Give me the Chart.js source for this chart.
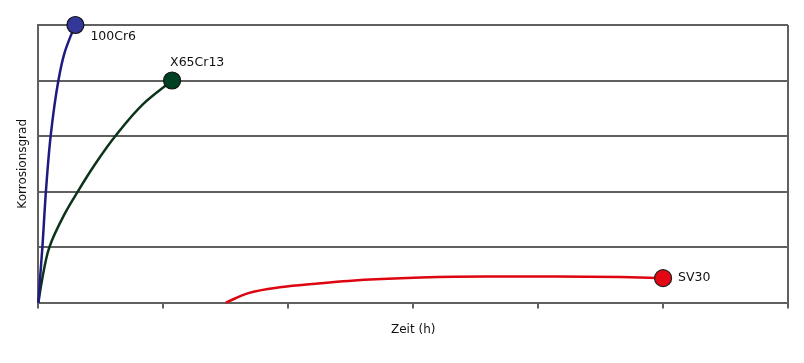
<!DOCTYPE html>
<html>
<head>
<meta charset="utf-8">
<script src="https://cdn.jsdelivr.net/npm/chart.js@4.4.1/dist/chart.umd.min.js"></script>
<style>
  html, body { margin: 0; padding: 0; background: #fff; }
  #wrap { width: 804px; height: 363px; }
</style>
</head>
<body>
<div id="wrap"><canvas id="myChart"></canvas></div>
<script>
// values (x in axis units, no labels shown)
const seriesNames = ['100Cr6', 'X65Cr13', 'SV30'];

const cr6X = [0, 0.012, 0.032, 0.06, 0.098, 0.16, 0.208, 0.256, 0.296];
const cr6Y = [0, 0.4, 1, 2, 3, 4, 4.49, 4.79, 5];

const x65X = [0, 0.027, 0.088, 0.208, 0.315, 0.456, 0.616, 0.84, 1.07];
const x65Y = [0, 0.38, 1, 1.59, 2, 2.5, 3, 3.58, 4];

const sv30X = [1.5, 1.68, 1.95, 2.22, 2.48, 3.06, 3.59, 4.12, 4.66, 5.0];
const sv30Y = [0, 0.17, 0.28, 0.34, 0.39, 0.45, 0.47, 0.47, 0.46, 0.44];

const xTicks = [0, 1, 2, 3, 4, 5, 6];
const yTicks = [0, 1, 2, 3, 4, 5];

function pts(xs, ys) {
  return xs.map((x, i) => ({ x: x, y: ys[i] }));
}
function endRadius(xs) {
  return xs.map((x, i) => i === xs.length - 1 ? 8.5 : 0);
}

const ctx = document.getElementById('myChart');

const endLabels = {
  id: 'endLabels',
  afterDatasetsDraw(chart) {
    const c = chart.ctx;
    const offs = [[15, 12], [-2, -18], [15, 0]];
    c.save();
    c.font = '12.5px "DejaVu Sans"';
    c.fillStyle = '#111';
    c.textBaseline = 'middle';
    c.textAlign = 'left';
    chart.data.datasets.forEach((ds, i) => {
      const meta = chart.getDatasetMeta(i);
      const p = meta.data[meta.data.length - 1];
      c.fillText(seriesNames[i], p.x + offs[i][0], p.y + offs[i][1]);
    });
    c.restore();
  }
};

// steep curves are interpolated along y so they stay smooth
var data = {
  datasets: [{
    label: seriesNames[0],
    data: pts(cr6X, cr6Y),
    indexAxis: 'y',
    borderColor: '#1f1a82',
    backgroundColor: '#34379a',
    pointBorderColor: '#111',
    pointRadius: endRadius(cr6X)
  }, {
    label: seriesNames[1],
    data: pts(x65X, x65Y),
    indexAxis: 'y',
    borderColor: '#0b3318',
    backgroundColor: '#004123',
    pointBorderColor: '#111',
    pointRadius: endRadius(x65X)
  }, {
    label: seriesNames[2],
    data: pts(sv30X, sv30Y),
    borderColor: '#dc0510',
    backgroundColor: '#e30613',
    pointBorderColor: '#222',
    pointRadius: endRadius(sv30X)
  }]
};

var config = {
  type: 'line',
  data: data,
  plugins: [endLabels],
  options: {
    responsive: true,
    maintainAspectRatio: false,
    animation: false,
    clip: false,
    layout: { padding: { left: 9, right: 16, top: 25, bottom: 22 } },
    elements: {
      line: { borderWidth: 2.5, cubicInterpolationMode: 'monotone', fill: false },
      point: { borderWidth: 1.2, hoverRadius: 8.5 }
    },
    plugins: {
      legend: { display: false },
      tooltip: { enabled: false }
    },
    scales: {
      x: {
        type: 'linear',
        min: 0,
        max: 6,
        afterBuildTicks: (s) => { s.ticks = xTicks.map(v => ({ value: v })); },
        ticks: { display: false },
        grid: {
          color: (c) => c.tick && c.tick.value === 6 ? '#606060' : 'rgba(0,0,0,0)',
          tickColor: '#606060',
          lineWidth: 2,
          tickLength: 6
        },
        border: { display: true, color: '#606060', width: 2 },
        title: {
          display: true,
          text: 'Zeit (h)',
          font: { family: '"DejaVu Sans"', size: 12 },
          color: '#111',
          padding: { top: 14, bottom: 4 }
        }
      },
      y: {
        type: 'linear',
        min: 0,
        max: 5,
        afterBuildTicks: (s) => { s.ticks = yTicks.map(v => ({ value: v })); },
        ticks: { display: false },
        grid: { color: '#606060', lineWidth: 2, drawTicks: false },
        border: { display: true, color: '#606060', width: 2 },
        title: {
          display: true,
          text: 'Korrosionsgrad',
          font: { family: '"DejaVu Sans"', size: 12 },
          color: '#111',
          padding: { top: 7, bottom: 8 }
        }
      }
    }
  }
};

var chart = new Chart(ctx, config);
</script>
</body>
</html>
